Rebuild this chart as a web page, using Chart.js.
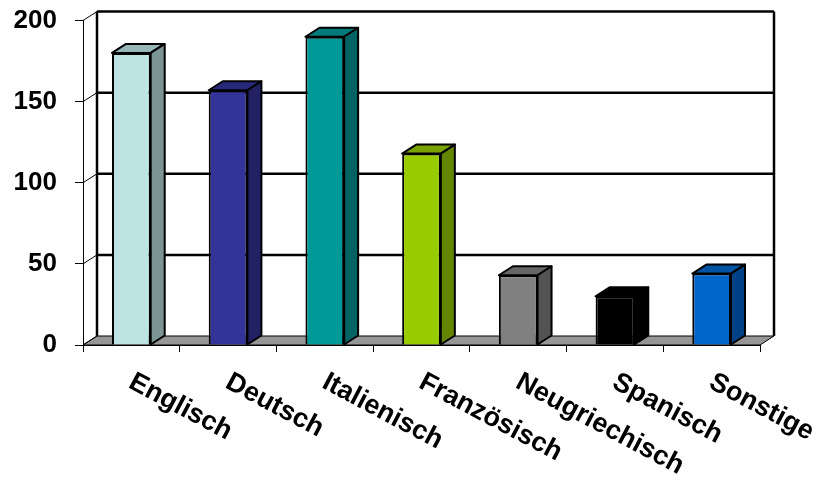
<!DOCTYPE html>
<html>
<head>
<meta charset="utf-8">
<title>Sprachen</title>
<script src="https://cdn.jsdelivr.net/npm/chart.js@4.4.1/dist/chart.umd.min.js"></script>
<style>
  html, body { margin: 0; padding: 0; background: #fff; }
  #wrap { width: 819px; height: 487px; }
</style>
</head>
<body>
<div id="wrap"><canvas id="sprachen"></canvas></div>
<script>
var sprachen = ["Englisch", "Deutsch", "Italienisch", "Französisch", "Neugriechisch", "Spanisch", "Sonstige"];
var anzahl = [180, 157, 190, 118, 43, 30, 44];
var farben = ["#bde3e3", "#333399", "#009999", "#99cc00", "#808080", "#000000", "#0066cc"];
var yTicks = [0, 50, 100, 150, 200];

var schrift = "Arial, 'Liberation Sans', sans-serif";
// depth of the 3d box
var tiefeX = 14, tiefeY = -9;

function abdunkeln(hex, f) {
  var n = parseInt(hex.slice(1), 16);
  var r = Math.round(((n >> 16) & 255) * f);
  var g = Math.round(((n >> 8) & 255) * f);
  var b = Math.round((n & 255) * f);
  return "rgb(" + r + "," + g + "," + b + ")";
}

function poly(ctx, pts, fill) {
  ctx.beginPath();
  ctx.moveTo(pts[0][0], pts[0][1]);
  for (var i = 1; i < pts.length; i++) ctx.lineTo(pts[i][0], pts[i][1]);
  ctx.closePath();
  if (fill) { ctx.fillStyle = fill; ctx.fill(); }
  ctx.stroke();
}

var box3d = {
  id: "box3d",
  beforeDraw: function (chart) {
    var ctx = chart.ctx, a = chart.chartArea, ys = chart.scales.y;
    var l = a.left, r = a.right;
    var b = ys.getPixelForValue(0), t = ys.getPixelForValue(200);
    ctx.save();
    ctx.strokeStyle = "#000";

    // floor
    ctx.lineWidth = 1;
    poly(ctx, [[l, b], [r, b], [r + tiefeX, b + tiefeY], [l + tiefeX, b + tiefeY]], "#969696");

    // gridlines on back wall + diagonals on side wall
    yTicks.forEach(function (v) {
      var y = ys.getPixelForValue(v);
      ctx.lineWidth = 1;
      ctx.beginPath();
      ctx.moveTo(l, y);
      ctx.lineTo(l + tiefeX, y + tiefeY);
      ctx.stroke();
      if (v > 0) {
        ctx.lineWidth = 2.5;
        ctx.beginPath();
        ctx.moveTo(l + tiefeX, y + tiefeY);
        ctx.lineTo(r + tiefeX, y + tiefeY);
        ctx.stroke();
      }
    });

    // back wall edges
    ctx.lineWidth = 2.5;
    ctx.beginPath();
    ctx.moveTo(l + tiefeX, b + tiefeY);
    ctx.lineTo(l + tiefeX, t + tiefeY);
    ctx.moveTo(r + tiefeX, t + tiefeY);
    ctx.lineTo(r + tiefeX, b + tiefeY);
    ctx.stroke();
    ctx.restore();
  },
  afterDatasetsDraw: function (chart) {
    var ctx = chart.ctx;
    var meta = chart.getDatasetMeta(0);
    ctx.save();
    ctx.strokeStyle = "#000";
    ctx.lineWidth = 2;
    ctx.lineJoin = "round";
    meta.data.forEach(function (bar, i) {
      var x0 = bar.x - bar.width / 2, x1 = bar.x + bar.width / 2;
      var top = bar.y, base = bar.base;
      // top face
      poly(ctx, [[x0, top], [x0 + tiefeX, top + tiefeY], [x1 + tiefeX, top + tiefeY], [x1, top]], abdunkeln(farben[i], 0.8));
      // side face
      poly(ctx, [[x1, top], [x1 + tiefeX, top + tiefeY], [x1 + tiefeX, base + tiefeY], [x1, base]], abdunkeln(farben[i], 0.65));
    });
    ctx.restore();
  },
  afterDraw: function (chart) {
    // slanted category labels
    var ctx = chart.ctx, xs = chart.scales.x;
    var groesse = 27, winkel = 28 * Math.PI / 180;
    ctx.save();
    ctx.fillStyle = "#000";
    ctx.font = "bold " + groesse + "px " + schrift;
    ctx.textAlign = "left";
    ctx.textBaseline = "alphabetic";
    sprachen.forEach(function (s, i) {
      ctx.save();
      ctx.translate(xs.getPixelForValue(i) + 5, chart.chartArea.bottom + 25);
      ctx.rotate(winkel);
      ctx.fillText(s, 0, groesse * 0.716);
      ctx.restore();
    });
    ctx.restore();
  }
};

new Chart(document.getElementById("sprachen"), {
  type: "bar",
  data: {
    labels: sprachen,
    datasets: [{
      data: anzahl,
      backgroundColor: farben,
      borderColor: "#000",
      borderWidth: 2,
      barPercentage: 0.4,
      categoryPercentage: 1
    }]
  },
  options: {
    responsive: true,
    maintainAspectRatio: false,
    animation: false,
    layout: { padding: { top: 20.5, right: 59, left: 0, bottom: 0 } },
    plugins: {
      legend: { display: false },
      tooltip: { enabled: false }
    },
    scales: {
      x: {
        ticks: { display: false },
        grid: { drawOnChartArea: false, offset: true, tickLength: 7, color: "#000" },
        border: { color: "#000", width: 1 },
        afterFit: function (s) { s.height = 142; }
      },
      y: {
        min: 0,
        max: 200,
        ticks: {
          stepSize: 50,
          color: "#000",
          padding: 18,
          font: { family: schrift, size: 26, weight: "bold" }
        },
        grid: { drawOnChartArea: false, tickLength: 8, color: "#000" },
        border: { color: "#000", width: 1 },
        afterFit: function (s) {
          s.width = 83;
          s.paddingTop = 0;
          s.paddingBottom = 0;
        }
      }
    }
  },
  plugins: [box3d]
});
</script>
</body>
</html>
